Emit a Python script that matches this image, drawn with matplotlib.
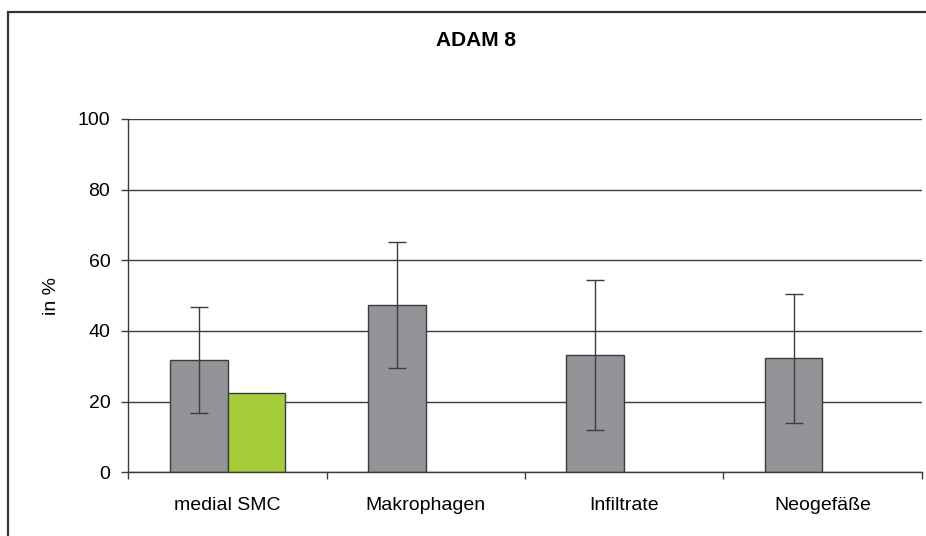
import matplotlib
matplotlib.use("Agg")
from matplotlib import pyplot as plt
from matplotlib.patches import Rectangle
import numpy as np

plt.rcParams['font.family'] = ['Liberation Sans', 'DejaVu Sans']

# Data
categories = ["medial SMC", "Makrophagen", "Infiltrate", "Neogefäße"]
gray_values = [31.7, 47.4, 33.3, 32.3]
gray_errors = [15.0, 17.8, 21.2, 18.3]
green_values = [22.5, 0, 0, 0]

gray_color = "#939497"
green_color = "#a5cd39"
dark = "#3c3c3c"

fig = plt.figure(figsize=(9.26, 5.36), dpi=100)
ax = fig.add_axes([0.1386, 0.1188, 0.8567, 0.6592])

x = np.arange(len(categories))
width = 0.292

# Gridlines behind bars
ax.set_axisbelow(True)
ax.yaxis.grid(True, color=dark, linewidth=1.0)

ax.bar(x - width / 2, gray_values, width, color=gray_color,
       edgecolor=dark, linewidth=1.0, zorder=2)
ax.errorbar(x - width / 2, gray_values, yerr=gray_errors, fmt='none',
            ecolor=dark, elinewidth=1.0, capsize=6.5, capthick=1.0, zorder=3)
green_x = [xi + width / 2 for xi, v in zip(x, green_values) if v > 0]
green_h = [v for v in green_values if v > 0]
ax.bar(green_x, green_h, width, color=green_color,
       edgecolor=dark, linewidth=1.0, zorder=2)

# Axis formatting
ax.set_xlim(-0.5, len(categories) - 0.5)
ax.set_ylim(0, 100)
ax.set_yticks(range(0, 101, 20))
ax.tick_params(axis='y', labelsize=14, length=5, width=1, color=dark, pad=8)

ax.set_xticks(np.arange(-0.5, len(categories), 1.0))
ax.set_xticklabels([])
ax.tick_params(axis='x', which='major', length=5, width=1, color=dark)
ax.set_xticks(x, minor=True)
ax.set_xticklabels(categories, minor=True)
ax.tick_params(axis='x', which='minor', length=0, labelsize=14, pad=18)

for side in ['top', 'right']:
    ax.spines[side].set_visible(False)
for side in ['left', 'bottom']:
    ax.spines[side].set_color(dark)
    ax.spines[side].set_linewidth(1.0)

ax.set_ylabel("in %", fontsize=14)
ax.yaxis.set_label_coords(-0.086, 0.5)

fig.text(476 / 926, 1 - 41 / 536, "ADAM 8", fontsize=15, fontweight='bold',
         ha='center', va='center')

# Outer frame
fig.patches.append(Rectangle((8 / 926, -0.05), 1.2, 1 - 12 / 536 + 0.05,
                             transform=fig.transFigure, fill=False,
                             edgecolor="#333333", linewidth=1.6))

plt.savefig("out.png", dpi=100)
